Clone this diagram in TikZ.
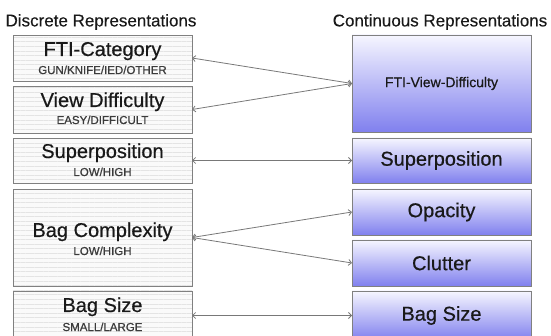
\documentclass[tikz,border=0pt]{standalone}
\usepackage{fontspec}
\setmainfont{Liberation Sans}
\newfontfamily\labfont{Liberation Sans}[FakeBold=0.5]
\newfontfamily\subfont{Liberation Sans}[FakeBold=0.8]
\newfontfamily\titfont{Liberation Sans}[FakeBold=0.3]
\usetikzlibrary{arrows.meta,patterns.meta}
\definecolor{boxline}{RGB}{128,128,128}
\definecolor{arrline}{RGB}{120,120,120}
\definecolor{txt}{RGB}{25,25,25}
\definecolor{ctop}{RGB}{246,246,255}
\definecolor{cmid}{RGB}{205,205,250}
\definecolor{cbot}{RGB}{128,128,238}
\definecolor{texbg}{RGB}{250,250,250}
\definecolor{texln}{RGB}{228,228,228}
\begin{document}
\begin{tikzpicture}[x=1pt,y=-1pt,
  lbox/.style={draw=boxline,line width=0.9pt,inner sep=0pt,outer sep=0pt,
    minimum width=179pt,
    preaction={fill=texbg},
    pattern={Lines[angle=0,distance=4.6pt,line width=0.45pt]},pattern color=texln},
  rbox/.style={draw=boxline,line width=0.9pt,inner sep=0pt,outer sep=0pt,
    minimum width=179pt,shading=axis,top color=ctop,middle color=cmid,bottom color=cbot,
    font=\labfont\fontsize{20}{24}\selectfont,text=txt},
  mainlab/.style={anchor=base,inner sep=0pt,font=\labfont\fontsize{20}{24}\selectfont,text=txt},
  sublab/.style={anchor=base,inner sep=0pt,font=\subfont\fontsize{11.5}{13}\selectfont,text=txt!85},
  title/.style={inner sep=0pt,font=\titfont\fontsize{17}{20}\selectfont,text=txt},
  arr/.style={draw=arrline,line width=0.8pt,{Straight Barb[length=3pt,width=6pt]}-{Straight Barb[length=3pt,width=6pt]}}
]
\useasboundingbox (0,0) rectangle (551,336);
\clip (0,0) rectangle (551,336);

% titles
\node[title] (t1) at (101,22) {Discrete Representations};
\node[title] (t2) at (440,22) {Continuous Representations};

% left boxes
\node[lbox,minimum height=46pt] (L1) at (102.5,58) {};
\node[lbox,minimum height=47pt] (L2) at (102.5,109.5) {};
\node[lbox,minimum height=45pt] (L3) at (102.5,160.5) {};
\node[lbox,minimum height=97pt] (L4) at (102.5,237.5) {};
\node[lbox,minimum height=49pt] (L5) at (102.5,315.5) {};

\node[mainlab] (L1a) at (102.5,56) {FTI-Category};
\node[sublab]  (L1b) at (102.5,74) {GUN/KNIFE/IED/OTHER};
\node[mainlab] (L2a) at (102.5,107) {View Difficulty};
\node[sublab]  (L2b) at (102.5,124) {EASY/DIFFICULT};
\node[mainlab] (L3a) at (102.5,158) {Superposition};
\node[sublab]  (L3b) at (102.5,176) {LOW/HIGH};
\node[mainlab] (L4a) at (102.5,237) {Bag Complexity};
\node[sublab]  (L4b) at (102.5,255) {LOW/HIGH};
\node[mainlab] (L5a) at (102.5,312) {Bag Size};
\node[sublab]  (L5b) at (102.5,331) {SMALL/LARGE};

% right boxes
\node[rbox,minimum height=97pt,font=\labfont\fontsize{14}{17}\selectfont] (R1) at (441.5,83.5) {FTI-View-Difficulty};
\node[rbox,minimum height=45pt] (R2) at (441.5,160.5) {Superposition};
\node[rbox,minimum height=46pt] (R3) at (441.5,212) {Opacity};
\node[rbox,minimum height=46pt] (R4) at (441.5,263) {Clutter};
\node[rbox,minimum height=49pt] (R5) at (441.5,315.5) {Bag Size};

% connectors
\draw[arr] (L1.east) -- (R1.west);
\draw[arr] (L2.east) -- (R1.west);
\draw[arr] (L3.east) -- (R2.west);
\draw[arr] (L4.east) -- (R3.west);
\draw[arr] (L4.east) -- (R4.west);
\draw[arr] (L5.east) -- (R5.west);
\end{tikzpicture}
\end{document}
